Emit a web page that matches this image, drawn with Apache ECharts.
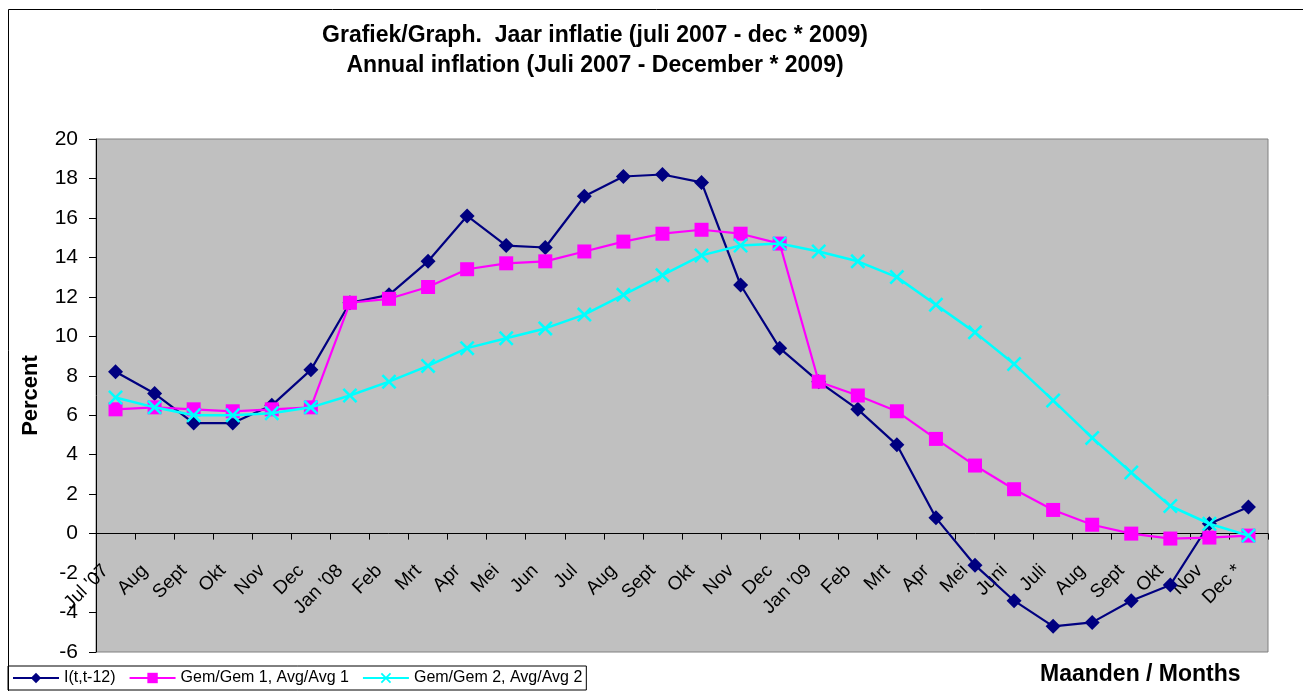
<!DOCTYPE html>
<html>
<head>
<meta charset="utf-8">
<script src="https://cdn.jsdelivr.net/npm/echarts@6/dist/echarts.min.js"></script>
<style>
  html, body { margin: 0; padding: 0; background: #fff; }
  #chart { width: 1303px; height: 691px; }
</style>
</head>
<body>
<div id="chart"></div>
<script>
// maanden / months
var months = ["Jul '07", 'Aug', 'Sept', 'Okt', 'Nov', 'Dec', "Jan '08", 'Feb', 'Mrt', 'Apr', 'Mei', 'Jun',
  'Jul', 'Aug', 'Sept', 'Okt', 'Nov', 'Dec', "Jan '09", 'Feb', 'Mrt', 'Apr', 'Mei', 'Juni',
  'Juli', 'Aug', 'Sept', 'Okt', 'Nov', 'Dec *'];

// I(t,t-12)
var inflYear = [8.2, 7.1, 5.6, 5.6, 6.5, 8.3, 11.7, 12.1, 13.8, 16.1, 14.6, 14.5,
  17.1, 18.1, 18.2, 17.8, 12.6, 9.4, 7.7, 6.3, 4.5, 0.8, -1.6, -3.4,
  -4.7, -4.5, -3.4, -2.6, 0.5, 1.35];

// Gem/Gem 1
var avg1 = [6.3, 6.4, 6.3, 6.2, 6.3, 6.4, 11.7, 11.9, 12.5, 13.4, 13.7, 13.8,
  14.3, 14.8, 15.2, 15.4, 15.2, 14.7, 7.7, 7.0, 6.2, 4.8, 3.45, 2.25,
  1.2, 0.45, 0.0, -0.25, -0.2, -0.1];

// Gem/Gem 2
var avg2 = [6.9, 6.4, 6.0, 6.0, 6.1, 6.4, 7.0, 7.7, 8.5, 9.4, 9.9, 10.4,
  11.1, 12.1, 13.1, 14.1, 14.6, 14.7, 14.3, 13.8, 13.0, 11.6, 10.2, 8.6,
  6.75, 4.85, 3.1, 1.4, 0.5, -0.1];

var yTicks = { min: -6, max: 20, step: 2 };

var fontName = 'Liberation Sans, Arial, sans-serif';
var crossPath = 'path://M0,1.2L1.2,0L5,3.8L8.8,0L10,1.2L6.2,5L10,8.8L8.8,10L5,6.2L1.2,10L0,8.8L3.8,5Z';

var chart = echarts.init(document.getElementById('chart'));

var option = {
  backgroundColor: '#ffffff',
  animation: false,
  title: {
    text: 'Grafiek/Graph.  Jaar inflatie (juli 2007 - dec * 2009)\nAnnual inflation (Juli 2007 - December * 2009)',
    left: 590,
    top: 16,
    textAlign: 'center',
    textStyle: {
      fontFamily: fontName,
      fontSize: 23,
      fontWeight: 'bold',
      color: '#000',
      lineHeight: 30
    }
  },
  legend: {
    left: 8,
    top: 666,
    padding: [4, 4, 4, 4],
    itemGap: 13,
    itemWidth: 46,
    itemHeight: 13,
    borderColor: '#000',
    borderWidth: 1,
    textStyle: { fontFamily: fontName, fontSize: 16, color: '#000' },
    data: ['I(t,t-12)', 'Gem/Gem 1, Avg/Avg 1', 'Gem/Gem 2, Avg/Avg 2']
  },
  grid: {
    left: 96,
    right: 35,
    top: 139,
    bottom: 39,
    containLabel: false,
    outerBoundsMode: 'none',
    show: true,
    backgroundColor: '#c0c0c0',
    borderColor: '#808080',
    borderWidth: 1
  },
  graphic: [
    {
      type: 'rect',
      shape: { x: 8.5, y: 9.5, width: 1320, height: 700 },
      style: { fill: null, stroke: '#000', lineWidth: 1 },
      silent: true,
      z: -1
    },
    {
      type: 'text',
      left: 1040,
      top: 663,
      style: {
        text: 'Maanden / Months',
        font: 'bold 23px ' + fontName,
        fill: '#000'
      }
    }
  ],
  xAxis: {
    type: 'category',
    data: months,
    boundaryGap: true,
    axisLine: { onZero: true, lineStyle: { color: '#000', width: 1 } },
    axisTick: { show: true, length: 6, lineStyle: { color: '#000' } },
    axisLabel: {
      interval: 0,
      rotate: 45,
      // labels stay at the grid bottom, pull them up under the zero line
      margin: -94,
      padding: [0, 14, 0, 0],
      fontFamily: fontName,
      fontSize: 19,
      color: '#000'
    },
    splitLine: { show: false }
  },
  yAxis: {
    type: 'value',
    min: yTicks.min,
    max: yTicks.max,
    interval: yTicks.step,
    name: 'Percent',
    nameLocation: 'middle',
    nameGap: 54,
    nameRotate: 90,
    nameTextStyle: { fontFamily: fontName, fontSize: 22, fontWeight: 'bold', color: '#000' },
    axisLine: { show: true, lineStyle: { color: '#000' } },
    axisTick: { show: true, length: 7, lineStyle: { color: '#000' } },
    axisLabel: { fontFamily: fontName, fontSize: 21, color: '#000', margin: 18 },
    splitLine: { show: false }
  },
  series: [
    {
      name: 'I(t,t-12)',
      type: 'line',
      data: inflYear,
      symbol: 'diamond',
      symbolSize: 15,
      color: '#000080',
      lineStyle: { color: '#000080', width: 2.2 },
      itemStyle: { color: '#000080' },
      z: 3
    },
    {
      name: 'Gem/Gem 1, Avg/Avg 1',
      type: 'line',
      data: avg1,
      symbol: 'rect',
      symbolSize: 14,
      color: '#ff00ff',
      lineStyle: { color: '#ff00ff', width: 2.2 },
      itemStyle: { color: '#ff00ff' },
      z: 4
    },
    {
      name: 'Gem/Gem 2, Avg/Avg 2',
      type: 'line',
      data: avg2,
      symbol: crossPath,
      symbolSize: 15,
      color: '#00ffff',
      lineStyle: { color: '#00ffff', width: 2.5 },
      itemStyle: { color: '#00ffff' },
      z: 5
    }
  ]
};

chart.setOption(option);
</script>
</body>
</html>
